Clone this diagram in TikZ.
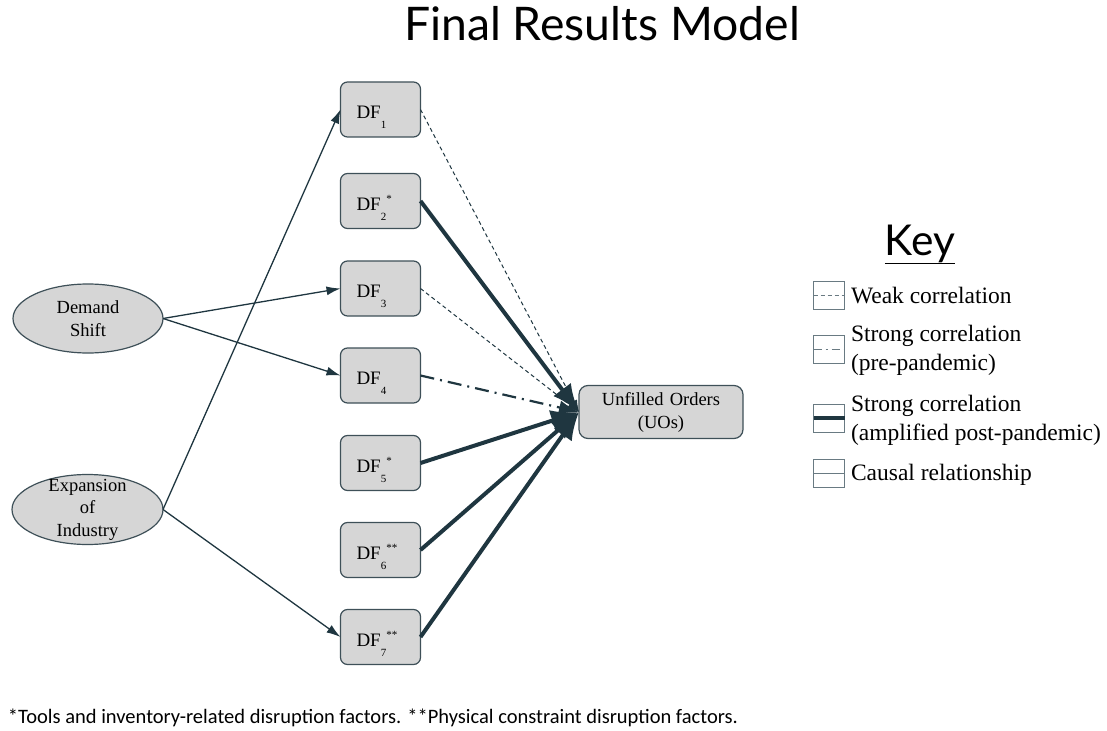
\documentclass[tikz,border=0pt]{standalone}
\usepackage{fontspec}
\setmainfont{Liberation Serif}
\newfontfamily\titlefont{Lato}
\newfontfamily\notefont{Carlito}
\usetikzlibrary{arrows.meta,shapes.geometric}

\definecolor{linkcol}{RGB}{31,54,64}
\definecolor{boxfill}{RGB}{214,214,214}
\definecolor{boxline}{RGB}{62,80,88}
\definecolor{keyline}{RGB}{105,122,130}

% factor label: DF with a low index and a high mark
\newcommand{\dflabel}[2]{DF\raisebox{-0.55em}{\fontsize{11}{11}\selectfont #1}\raisebox{0.42em}{\fontsize{11}{11}\selectfont #2}}

\begin{document}
\begin{tikzpicture}[%
    x=1pt, y=-1pt,
    every node/.style = {inner sep=0pt, outer sep=0pt},
    factor/.style = {draw=boxline, line width=1.2pt, fill=boxfill, rounded corners=7pt,
                     minimum width=80pt, minimum height=55pt, text width=48pt, align=left,
                     text height=18pt, text depth=0pt, font=\fontsize{19}{22}\selectfont},
    driver/.style = {ellipse, draw=boxline, line width=1.2pt, fill=boxfill, align=center,
                     inner xsep=12pt, inner ysep=0pt, font=\fontsize{18.5}{22.5}\selectfont},
    causal/.style = {draw=linkcol, line width=1.3pt, -{Latex[length=14pt,width=9pt]}},
    weak/.style = {draw=linkcol, line width=1pt, dash pattern=on 4pt off 3pt,
                   -{Latex[length=12pt,width=8pt]}},
    strongpre/.style = {draw=linkcol, line width=2.2pt, dash pattern=on 14pt off 6pt on 2pt off 6pt,
                        -{Latex[length=20pt,width=14pt]}},
    strongpost/.style = {draw=linkcol, line width=4pt, -{Latex[length=28pt,width=22pt]}},
    keybox/.style = {draw=keyline, line width=1pt, minimum width=31pt, minimum height=28pt},
    keytext/.style = {anchor=west, align=left, font=\fontsize{23.5}{29}\selectfont}%
  ]
    \useasboundingbox (0,0) rectangle (1107,730);

    \node[anchor=base, font=\titlefont\fontsize{46.3}{52}\selectfont] (title) at (602,41) {Final Results Model};

    % disruption factors
    \foreach \i/\y/\s in {1/109.5/{}, 2/201/*, 3/288.5/{}, 4/375.5/{}, 5/463/*, 6/550/**, 7/637/**}
      \node[factor] (df\i) at (380.5,\y) {\dflabel{\i}{\s}};

    \node[factor, minimum width=164pt, minimum height=53pt, text width=150pt, align=center,
          text height=, text depth=, font=\fontsize{18.5}{23}\selectfont,
          rounded corners=9pt] (uo) at (661,412) {Unfilled Orders\\(UOs)};

    \node[driver, minimum width=150pt, minimum height=69pt] (demand) at (88,318.5) {Demand\\Shift};
    \node[driver, minimum width=151pt, minimum height=70pt, inner ysep=-9pt] (expansion) at (87.5,509.5)
      {Expansion\\of\\Industry};

    % causal links
    \draw[causal] (demand.east) -- (df3.west);
    \draw[causal] (demand.east) -- (df4.west);
    \draw[causal] (expansion.east) -- (df1.west);
    \draw[causal] (expansion.east) -- (df7.west);

    % correlations
    \draw[weak] (df1.east) -- (uo.west);
    \draw[weak] (df3.east) -- (uo.west);
    \draw[strongpre] (df4.east) -- (uo.west);
    \draw[strongpost] (df2.east) -- (uo.west);
    \draw[strongpost] (df5.east) -- (uo.west);
    \draw[strongpost] (df6.east) -- (uo.west);
    \draw[strongpost] (df7.east) -- (uo.west);

    % key
    \node[anchor=base, font=\titlefont\fontsize{42.5}{48}\selectfont] (keytitle) at (920,255) {\underline{Key}};
    \node[keybox] (k1) at (829,295) {};
    \node[keybox] (k2) at (829,349) {};
    \node[keybox] (k3) at (829,418) {};
    \node[keybox] (k4) at (829,473) {};
    \draw[keyline, line width=1pt, dash pattern=on 4pt off 3pt] (k1.west) -- (k1.east);
    \draw[keyline, line width=1pt, dash pattern=on 8pt off 4pt on 2pt off 4pt] (k2.west) -- (k2.east);
    \draw[linkcol, line width=4pt] (k3.west) -- (k3.east);
    \draw[keyline, line width=1pt] (k4.west) -- (k4.east);
    \node[keytext] (t1) at (851,296) {Weak correlation};
    \node[keytext] (t2) at (851,350.5) {Strong correlation\\(pre-pandemic)};
    \node[keytext] (t3) at (851,420.5) {Strong correlation\\(amplified post-pandemic)};
    \node[keytext] (t4) at (851,475) {Causal relationship};

    \node[anchor=base west, font=\notefont\fontsize{20.5}{24}\selectfont] (note) at (8,723)
      {*Tools and inventory-related disruption factors. **Physical constraint disruption factors.};
\end{tikzpicture}
\end{document}
